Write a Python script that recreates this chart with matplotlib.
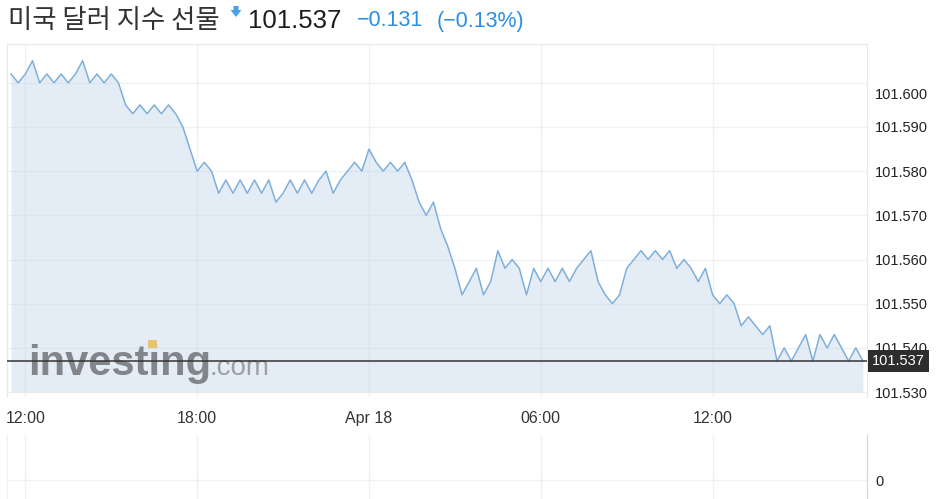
import matplotlib
matplotlib.use("Agg")
import matplotlib.pyplot as plt
import matplotlib.transforms as mtransforms
from matplotlib.patches import Rectangle, FancyArrow
import pandas as pd

# 15-minute closes, Apr 17 11:30 -> Apr 18 17:15
times = pd.date_range("2023-04-17 11:30", periods=120, freq="15min")
prices = [
    101.602, 101.600, 101.602, 101.605, 101.600, 101.602, 101.600, 101.602,
    101.600, 101.602, 101.605, 101.600, 101.602, 101.600, 101.602, 101.600,
    101.595, 101.593, 101.595, 101.593, 101.595, 101.593, 101.595, 101.593,
    101.590, 101.585, 101.580, 101.582, 101.580, 101.575, 101.578, 101.575,
    101.578, 101.575, 101.578, 101.575, 101.578, 101.573, 101.575, 101.578,
    101.575, 101.578, 101.575, 101.578, 101.580, 101.575, 101.578, 101.580,
    101.582, 101.580, 101.585, 101.582, 101.580, 101.582, 101.580, 101.582,
    101.578, 101.573, 101.570, 101.573, 101.567, 101.563, 101.558, 101.552,
    101.555, 101.558, 101.552, 101.555, 101.562, 101.558, 101.560, 101.558,
    101.552, 101.558, 101.555, 101.558, 101.555, 101.558, 101.555, 101.558,
    101.560, 101.562, 101.555, 101.552, 101.550, 101.552, 101.558, 101.560,
    101.562, 101.560, 101.562, 101.560, 101.562, 101.558, 101.560, 101.558,
    101.555, 101.558, 101.552, 101.550, 101.552, 101.550, 101.545, 101.547,
    101.545, 101.543, 101.545, 101.537, 101.540, 101.537, 101.540, 101.543,
    101.537, 101.543, 101.540, 101.543, 101.540, 101.537, 101.540, 101.537,
]
last_price = 101.537
title = "미국 달러 지수 선물"
change = "−0.131"
change_pct = "(−0.13%)"
y_ticks = [101.530, 101.540, 101.550, 101.560, 101.570, 101.580, 101.590, 101.600]
x_ticks = pd.to_datetime(["2023-04-17 12:00", "2023-04-17 18:00", "2023-04-18 00:00",
                          "2023-04-18 06:00", "2023-04-18 12:00"])
x_labels = ["12:00", "18:00", "Apr 18", "06:00", "12:00"]

plt.rcParams['font.family'] = ['Liberation Sans', 'Noto Sans CJK KR', 'DejaVu Sans']

W, H = 944, 499
fig = plt.figure(figsize=(W / 100, H / 100), dpi=100)
fig.patch.set_facecolor('white')

ax = fig.add_axes([7 / W, 1 - 397 / H, 860 / W, 353 / H])
vol = fig.add_axes([7 / W, 0, 860 / W, 64 / H])

pad = pd.Timedelta(minutes=8.5)
xlim = (times[0] - pad, times[-1] + pad)

# price panel
ax.fill_between(times, prices, 101.530, color='#e4edf5', lw=0, zorder=1)
ax.plot(times, prices, color='#7eafdb', lw=1.1, zorder=3)
ax.axhline(last_price, color='#333333', lw=1.1, zorder=4)
ax.set_xlim(*xlim)
ax.set_ylim(101.52887, 101.60879)
ax.set_axisbelow('line')
ax.grid(True, color='#c9d4de', alpha=0.3, lw=1)

ax.yaxis.tick_right()
ax.set_yticks(y_ticks)
ax.set_yticklabels([f"{v:.3f}" for v in y_ticks])
ax.tick_params(axis='y', length=0, pad=6, labelsize=10.5, labelcolor='#222222')
ax.set_xticks(x_ticks)
ax.set_xticklabels(x_labels)
ax.tick_params(axis='x', length=0, pad=10, labelsize=11.5, labelcolor='#333333')
for side in ['top', 'left', 'right']:
    ax.spines[side].set_color('#e6e9ee')
ax.spines['bottom'].set_visible(False)

# top label sits a bit lower than its gridline on the source chart
top_lab = ax.yaxis.get_major_ticks()[-1].label2
top_lab.set_transform(top_lab.get_transform()
                      + mtransforms.ScaledTranslation(0, -0.11, fig.dpi_scale_trans))

# last price tag
tag_tr = mtransforms.blended_transform_factory(ax.transAxes, ax.transData)
ax.text(1 + 5 / 860, last_price, f"{last_price:.3f}", transform=tag_tr, ha='left',
        va='center', fontsize=10.5, color='white', zorder=6, clip_on=False,
        bbox=dict(boxstyle='square,pad=0.3', fc='#2d2d2d', ec='none'))

# watermark
ax.text(21 / 860, 22 / 353, "investing", transform=ax.transAxes, fontsize=30,
        fontweight='bold', color='#82868b', va='baseline', ha='left', zorder=2)
ax.text(203 / 860, 22 / 353, ".com", transform=ax.transAxes, fontsize=20,
        color='#9ca0a4', va='baseline', ha='left', zorder=2)
ax.add_patch(Rectangle((141 / 860, 49 / 353), 9 / 860, 8 / 353, transform=ax.transAxes,
                       fc='#e9c46e', ec='none', zorder=2))

# volume panel
vol.set_xlim(*xlim)
vol.set_ylim(-0.42, 1)
vol.set_xticks(x_ticks)
vol.set_xticklabels([])
vol.set_yticks([0])
vol.yaxis.tick_right()
vol.tick_params(axis='both', length=0)
vol.tick_params(axis='y', pad=6, labelsize=10.5, labelcolor='#222222')
vol.grid(True, color='#c9d4de', alpha=0.3, lw=1)
for side in ['top', 'bottom']:
    vol.spines[side].set_visible(False)
vol.spines['left'].set_color('#eef0f3')
vol.spines['right'].set_color('#c9d7e6')

# header
fig.text(8 / W, 1 - 21 / H, title, family=['Noto Sans CJK KR'], fontsize=19,
         color='#333333', va='center', ha='left')
fig.patches.append(FancyArrow(236 / W, 1 - 6 / H, 0, -11 / H, width=5 / W,
                              head_width=11 / W, head_length=7 / H,
                              length_includes_head=True, transform=fig.transFigure,
                              fc='#4aa0e6', ec='none'))
fig.text(248 / W, 1 - 21 / H, f"{last_price:.3f}", fontsize=18.5, color='#1d1d1d',
         va='center', ha='left')
fig.text(357 / W, 1 - 21 / H, change, fontsize=15.5, color='#2b8de3',
         va='center', ha='left')
fig.text(437 / W, 1 - 21 / H, change_pct, fontsize=15.5, color='#2b8de3',
         va='center', ha='left')

fig.savefig("out.png", dpi=100, facecolor=fig.get_facecolor())
